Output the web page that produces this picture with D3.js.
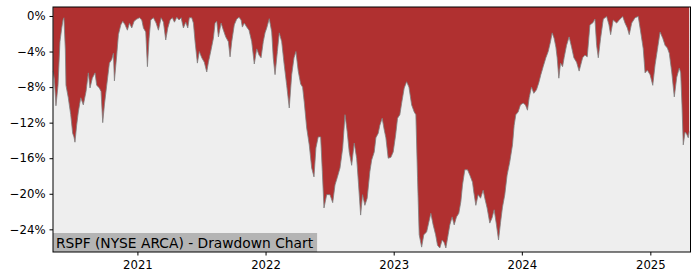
<!DOCTYPE html>
<html>
<head>
<meta charset="utf-8">
<script src="https://cdn.jsdelivr.net/npm/d3@7"></script>
<style>
  html, body { margin: 0; padding: 0; background: #ffffff; }
  svg { display: block; }
  text { font-family: "DejaVu Sans", sans-serif; fill: #000; }
</style>
</head>
<body>
<svg id="chart" width="700" height="280"></svg>
<script>
// Time (decimal years)
const years = [
  2020.345,2020.354,2020.366,2020.382,2020.397,2020.411,2020.421,2020.428,2020.439,2020.444,
  2020.462,2020.481,2020.496,2020.506,2020.514,2020.527,2020.540,2020.559,2020.579,2020.600,
  2020.618,2020.631,2020.649,2020.670,2020.683,2020.704,2020.717,2020.730,2020.743,2020.761,
  2020.782,2020.800,2020.813,2020.821,2020.839,2020.852,2020.871,2020.886,2020.904,2020.922,
  2020.938,2020.956,2020.974,2020.995,2021.016,2021.034,2021.047,2021.065,2021.078,2021.091,
  2021.104,2021.125,2021.146,2021.164,2021.185,2021.203,2021.221,2021.237,2021.255,2021.273,
  2021.289,2021.307,2021.325,2021.341,2021.359,2021.377,2021.393,2021.405,2021.424,2021.437,
  2021.450,2021.468,2021.483,2021.502,2021.522,2021.541,2021.554,2021.572,2021.593,2021.606,
  2021.619,2021.632,2021.653,2021.671,2021.689,2021.710,2021.723,2021.736,2021.756,2021.775,
  2021.793,2021.809,2021.819,2021.834,2021.853,2021.871,2021.892,2021.912,2021.931,2021.949,
  2021.965,2021.982,2021.996,2022.009,2022.029,2022.048,2022.060,2022.074,2022.092,2022.107,
  2022.126,2022.144,2022.165,2022.185,2022.204,2022.222,2022.237,2022.255,2022.274,2022.289,
  2022.302,2022.321,2022.341,2022.360,2022.378,2022.393,2022.411,2022.430,2022.443,2022.456,
  2022.477,2022.503,2022.524,2022.542,2022.559,2022.581,2022.602,2022.620,2022.637,2022.653,
  2022.672,2022.692,2022.711,2022.726,2022.742,2022.757,2022.775,2022.793,2022.814,2022.828,
  2022.848,2022.861,2022.879,2022.892,2022.910,2022.926,2022.939,2022.957,2022.978,2022.996,
  2023.015,2023.030,2023.048,2023.062,2023.082,2023.101,2023.119,2023.140,2023.160,2023.173,
  2023.186,2023.199,2023.218,2023.235,2023.257,2023.274,2023.290,2023.308,2023.327,2023.342,
  2023.360,2023.378,2023.394,2023.407,2023.425,2023.438,2023.456,2023.472,2023.490,2023.508,
  2023.524,2023.537,2023.555,2023.576,2023.594,2023.615,2023.625,2023.641,2023.659,2023.678,
  2023.698,2023.711,2023.729,2023.750,2023.768,2023.784,2023.802,2023.818,2023.834,2023.849,
  2023.867,2023.885,2023.906,2023.927,2023.940,2023.953,2023.971,2023.989,2024.010,2024.028,
  2024.044,2024.057,2024.075,2024.093,2024.114,2024.132,2024.148,2024.166,2024.187,2024.205,
  2024.223,2024.236,2024.251,2024.265,2024.275,2024.288,2024.301,2024.317,2024.329,2024.348,
  2024.368,2024.387,2024.405,2024.426,2024.446,2024.473,2024.491,2024.509,2024.530,2024.551,
  2024.569,2024.582,2024.595,2024.613,2024.634,2024.660,2024.678,2024.691,2024.711,2024.738,
  2024.758,2024.785,2024.803,2024.821,2024.836,2024.855,2024.881,2024.906,2024.925,2024.945,
  2024.959,2024.977,2024.998,2025.019,2025.037,2025.055,2025.076,2025.097,2025.115,2025.133,
  2025.148,2025.167,2025.187,2025.206,2025.226,2025.237,2025.247,2025.257,2025.271,2025.284,
  2025.296,2025.303
];
// Drawdown (%)
const drawdown = [
  -6.2,-7.2,-10.1,-7.8,-2.9,-1.35,-0.45,-0.2,-3.8,-7.8,
  -9.2,-11.1,-13.2,-13.6,-14.2,-12.3,-10.8,-9.2,-10.0,-8.5,
  -6.4,-8.1,-7.0,-6.4,-7.8,-8.1,-8.5,-12.0,-10.0,-7.8,
  -5.3,-4.9,-4.2,-7.3,-4.4,-2.1,-1.0,-0.6,-1.0,-1.6,
  -0.8,-1.35,-0.6,-0.35,-0.2,-0.45,-1.35,-1.8,-5.7,-2.5,
  -0.45,-0.2,-0.8,-1.6,-0.2,-0.7,-2.7,-1.35,-0.45,-0.2,
  -0.7,-0.15,-0.45,-0.2,-1.35,-0.7,-1.35,-0.2,-0.2,-0.8,
  -2.9,-5.3,-4.0,-4.7,-5.2,-6.3,-5.2,-4.0,-2.5,-0.8,
  -0.6,-2.35,-0.8,-1.6,-2.35,-2.9,-4.6,-2.9,-1.0,-0.35,
  -0.15,-0.45,-1.25,-0.8,-1.25,-1.6,-2.9,-5.4,-3.7,-4.4,
  -4.7,-2.9,-1.9,-1.35,-0.3,-1.8,-4.7,-6.6,-4.0,-1.9,
  -2.9,-5.3,-7.8,-10.35,-6.6,-4.7,-4.0,-6.2,-7.65,-8.0,
  -9.7,-12.6,-14.5,-17.1,-18.1,-14.85,-13.6,-13.6,-17.5,-21.6,
  -20.1,-20.1,-21.0,-19.0,-18.2,-17.1,-14.85,-11.1,-13.0,-15.3,
  -16.8,-14.3,-16.0,-19.0,-22.4,-20.1,-21.3,-20.5,-17.5,-16.2,
  -15.3,-13.7,-13.2,-12.3,-11.5,-12.8,-13.7,-16.0,-15.9,-15.3,
  -13.4,-11.5,-11.1,-9.8,-8.1,-7.4,-8.0,-10.0,-10.8,-11.1,
  -18.2,-24.6,-26.0,-24.6,-24.3,-23.2,-22.2,-23.5,-24.6,-25.8,
  -26.1,-25.2,-25.5,-26.1,-24.6,-23.5,-22.6,-23.5,-22.6,-22.2,
  -20.9,-19.0,-17.3,-17.3,-17.9,-18.7,-19.8,-21.3,-20.1,-20.5,
  -19.6,-20.5,-21.6,-23.3,-22.7,-21.8,-23.5,-25.2,-23.2,-21.5,
  -20.1,-17.9,-16.4,-14.5,-12.3,-11.1,-10.8,-10.0,-9.8,-10.0,
  -10.6,-9.2,-8.0,-8.7,-8.3,-7.5,-6.6,-5.7,-4.7,-4.0,
  -2.9,-1.9,-2.5,-3.5,-4.7,-7.0,-5.3,-5.7,-4.7,-3.3,
  -2.35,-3.5,-4.7,-5.2,-6.2,-4.7,-4.4,-4.6,-1.0,-0.8,
  -0.35,-3.3,-4.7,-2.5,-0.35,-0.05,-1.0,-2.1,-0.45,-0.8,
  -0.45,-0.05,-0.8,-1.35,-2.1,-0.8,-0.2,-0.05,-1.8,-3.7,
  -6.4,-6.1,-6.6,-7.8,-5.5,-3.8,-1.8,-2.5,-3.3,-3.6,
  -4.2,-6.3,-9.1,-6.9,-5.85,-6.4,-10.0,-14.5,-13.05,-13.3,
  -13.7,-13.0
];
const yTicks = [0, -4, -8, -12, -16, -20, -24];
const xTickYears = [2021, 2022, 2023, 2024, 2025];
const titleText = "RSPF (NYSE ARCA) - Drawdown Chart";

function yearToDate(t) {
  const y = Math.floor(t);
  const s = Date.UTC(y, 0, 1), e = Date.UTC(y + 1, 0, 1);
  return new Date(s + (t - y) * (e - s));
}

const data = years.map((t, i) => ({ date: yearToDate(t), v: drawdown[i] }));

const W = 700, H = 280;
const margin = { left: 53, right: 9.5, top: 7, bottom: 28 };
const iw = W - margin.left - margin.right;
const ih = H - margin.top - margin.bottom;

const svg = d3.select("#chart");
const g = svg.append("g").attr("transform", `translate(${margin.left},${margin.top})`);

const x = d3.scaleUtc()
  .domain([yearToDate(2020.343), yearToDate(2025.3135)])
  .range([0, iw]);
const y = d3.scaleLinear()
  .domain([-26.55, 1.01])
  .range([ih, 0]);

g.append("rect").attr("width", iw).attr("height", ih).attr("fill", "#eeeeee");

const area = d3.area()
  .x(d => x(d.date))
  .y0(0)
  .y1(d => y(d.v));
g.append("path").datum(data).attr("d", area).attr("fill", "#b03030");

const line = d3.line().x(d => x(d.date)).y(d => y(d.v));
g.append("path").datum(data).attr("d", line)
  .attr("fill", "none").attr("stroke", "#808080").attr("stroke-width", 0.9).attr("stroke-opacity", 0.9);

// title box
const titleG = g.append("g");
const tt = titleG.append("text")
  .attr("x", 3).attr("y", ih - 4.5)
  .style("font-size", "13.8px")
  .text(titleText);
const tw = tt.node().getComputedTextLength();
titleG.insert("rect", "text")
  .attr("x", 0).attr("y", ih - 19).attr("width", tw + 7).attr("height", 19)
  .attr("fill", "#b4b4b4");

// axes
const yAxis = d3.axisLeft(y).tickValues(yTicks).tickSize(3.5).tickPadding(4)
  .tickFormat(d => (d === 0 ? "0" : "\u2212" + Math.abs(d)) + "%");
const gy = g.append("g").call(yAxis);
gy.select(".domain").remove();
gy.selectAll("text").style("font-size", "11.7px").style("font-family", "DejaVu Sans");
gy.selectAll("line").attr("stroke", "#000");

const xAxis = d3.axisBottom(x).tickValues(xTickYears.map(v => yearToDate(v))).tickSize(3.5).tickPadding(5)
  .tickFormat(d3.utcFormat("%Y"));
const gx = g.append("g").attr("transform", `translate(0,${ih})`).call(xAxis);
gx.select(".domain").remove();
gx.selectAll("text").style("font-size", "11.7px").style("font-family", "DejaVu Sans");
gx.selectAll("line").attr("stroke", "#000");

g.append("rect").attr("width", iw).attr("height", ih)
  .attr("fill", "none").attr("stroke", "#000").attr("stroke-width", 1);
</script>
</body>
</html>
